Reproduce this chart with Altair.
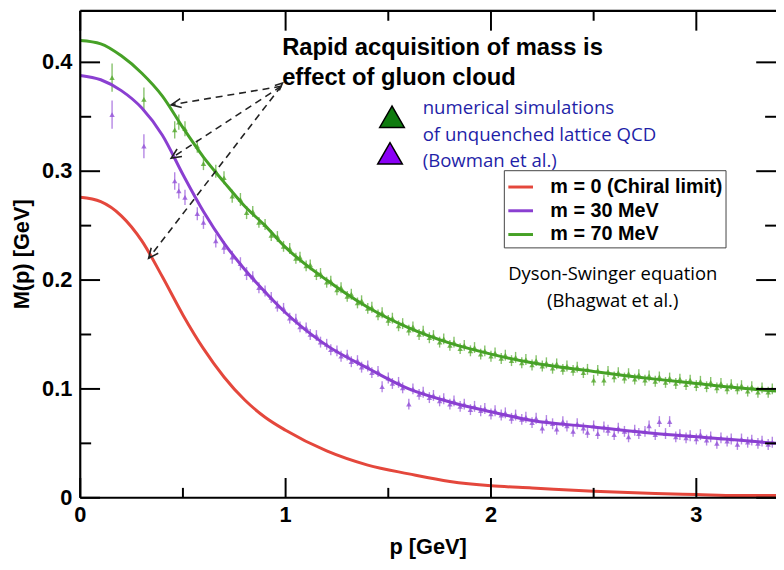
import altair as alt
import pandas as pd

# ---------------- data ----------------
series_names = ["m = 0 (Chiral limit)", "m = 30 MeV", "m = 70 MeV"]
curve_colors = ["#e4473c", "#8a3fd1", "#46a126"]

# Dyson-Schwinger curves
curve_p = [0.0, 0.1, 0.2, 0.3, 0.4, 0.5, 0.6, 0.7, 0.8, 0.9, 1.0, 1.2, 1.4, 1.6,
           1.8, 2.0, 2.2, 2.5, 2.8, 3.0, 3.2, 3.39]
red_m = [0.276, 0.272, 0.259, 0.236, 0.203, 0.168, 0.137, 0.111, 0.090, 0.074, 0.062,
         0.043, 0.030, 0.022, 0.015, 0.011, 0.009, 0.006, 0.004, 0.003, 0.002, 0.002]
purple_m = [0.388, 0.384, 0.374, 0.358, 0.333, 0.297, 0.263, 0.234, 0.210, 0.189, 0.170,
            0.140, 0.119, 0.100, 0.088, 0.079, 0.071, 0.065, 0.059, 0.056, 0.053, 0.050]
green_m = [0.420, 0.417, 0.406, 0.390, 0.369, 0.340, 0.313, 0.290, 0.268, 0.250, 0.230,
           0.200, 0.175, 0.156, 0.142, 0.132, 0.124, 0.116, 0.109, 0.105, 0.101, 0.098]

# lattice QCD points (Bowman et al.)
lat_p = [0.155, 0.31, 0.46, 0.48, 0.51, 0.57, 0.60, 0.66, 0.70, 0.74,
         0.78, 0.81, 0.84, 0.87, 0.90, 0.93, 0.96, 0.99, 1.02, 1.05,
         1.07, 1.10, 1.12, 1.15, 1.17, 1.20, 1.22, 1.25, 1.27, 1.30,
         1.32, 1.35, 1.37, 1.40, 1.42, 1.45, 1.47, 1.50, 1.52, 1.55,
         1.57, 1.60, 1.62, 1.65, 1.67, 1.70, 1.72, 1.75, 1.77, 1.80,
         1.82, 1.85, 1.87, 1.90, 1.92, 1.95, 1.97, 2.00, 2.02, 2.05,
         2.07, 2.10, 2.12, 2.15, 2.17, 2.20, 2.22, 2.25, 2.27, 2.30,
         2.32, 2.35, 2.37, 2.40, 2.42, 2.45, 2.47, 2.50, 2.52, 2.55,
         2.57, 2.60, 2.62, 2.65, 2.67, 2.70, 2.72, 2.75, 2.77, 2.80,
         2.82, 2.85, 2.87, 2.90, 2.92, 2.95, 2.97, 3.00, 3.02, 3.05,
         3.07, 3.10, 3.12, 3.15, 3.17, 3.20, 3.22, 3.25, 3.27, 3.30,
         3.32, 3.35, 3.37]
lat_green = [0.386, 0.366, 0.338, 0.345, 0.339, 0.323, 0.307, 0.300, 0.294, 0.277,
             0.274, 0.262, 0.263, 0.253, 0.251, 0.241, 0.240, 0.231, 0.229, 0.220,
             0.221, 0.213, 0.214, 0.205, 0.206, 0.198, 0.199, 0.191, 0.193, 0.185,
             0.187, 0.179, 0.181, 0.174, 0.175, 0.168, 0.170, 0.163, 0.165, 0.158,
             0.160, 0.154, 0.157, 0.150, 0.153, 0.147, 0.149, 0.143, 0.146, 0.140,
             0.143, 0.137, 0.140, 0.135, 0.138, 0.132, 0.135, 0.130, 0.133, 0.128,
             0.131, 0.126, 0.129, 0.124, 0.127, 0.122, 0.126, 0.121, 0.124, 0.119,
             0.123, 0.118, 0.121, 0.117, 0.120, 0.115, 0.118, 0.108, 0.117, 0.108,
             0.116, 0.111, 0.115, 0.110, 0.114, 0.109, 0.113, 0.108, 0.112, 0.107,
             0.111, 0.106, 0.110, 0.105, 0.109, 0.104, 0.108, 0.103, 0.107, 0.102,
             0.106, 0.101, 0.105, 0.100, 0.104, 0.100, 0.103, 0.098, 0.102, 0.097,
             0.101, 0.097, 0.100]
lat_purple = [0.352, 0.323, 0.291, 0.282, 0.276, 0.261, 0.253, 0.236, 0.230, 0.221,
              0.215, 0.206, 0.203, 0.193, 0.190, 0.184, 0.176, 0.174, 0.165, 0.164,
              0.157, 0.156, 0.150, 0.149, 0.143, 0.141, 0.136, 0.135, 0.130, 0.131,
              0.125, 0.126, 0.120, 0.121, 0.115, 0.116, 0.102, 0.110, 0.105, 0.106,
              0.101, 0.086, 0.100, 0.095, 0.097, 0.092, 0.094, 0.089, 0.091, 0.086,
              0.089, 0.084, 0.086, 0.081, 0.084, 0.080, 0.082, 0.077, 0.080, 0.076,
              0.078, 0.073, 0.076, 0.072, 0.074, 0.069, 0.073, 0.064, 0.071, 0.068,
              0.063, 0.070, 0.066, 0.061, 0.068, 0.064, 0.060, 0.066, 0.059, 0.065,
              0.062, 0.058, 0.064, 0.061, 0.056, 0.062, 0.059, 0.061, 0.066, 0.058,
              0.070, 0.059, 0.070, 0.056, 0.058, 0.055, 0.057, 0.054, 0.058, 0.053,
              0.056, 0.050, 0.055, 0.052, 0.054, 0.049, 0.054, 0.051, 0.053, 0.050,
              0.052, 0.049, 0.051]
lat_err = [0.013, 0.011, 0.008, 0.007, 0.007, 0.006, 0.006, 0.006, 0.006, 0.006,
           0.006, 0.006, 0.005, 0.005, 0.005, 0.005, 0.005, 0.005, 0.005, 0.005,
           0.005, 0.005, 0.005, 0.005, 0.005, 0.005, 0.005, 0.005, 0.005, 0.005,
           0.005, 0.005, 0.005, 0.005, 0.005, 0.005, 0.005, 0.005, 0.005, 0.005,
           0.005, 0.005, 0.005, 0.005, 0.005, 0.005, 0.005, 0.005, 0.005, 0.005,
           0.005, 0.005, 0.005, 0.005, 0.005, 0.005, 0.005, 0.005, 0.005, 0.005,
           0.005, 0.005, 0.005, 0.005, 0.005, 0.005, 0.005, 0.005, 0.005, 0.005,
           0.005, 0.005, 0.005, 0.005, 0.005, 0.005, 0.005, 0.005, 0.005, 0.005,
           0.005, 0.005, 0.005, 0.005, 0.005, 0.005, 0.005, 0.005, 0.005, 0.005,
           0.005, 0.005, 0.005, 0.005, 0.005, 0.005, 0.005, 0.005, 0.005, 0.005,
           0.005, 0.005, 0.005, 0.005, 0.005, 0.005, 0.005, 0.005, 0.005, 0.005,
           0.005, 0.005, 0.005]

# tick positions and tick labels
x_major = [0, 1, 2, 3]
x_major_labels = ["0", "1", "2", "3"]
x_minor = [0.5, 1.5, 2.5]
y_major = [0, 0.1, 0.2, 0.3, 0.4]
y_major_labels = ["0", "0.1", "0.2", "0.3", "0.4"]
y_minor = [0.05, 0.15, 0.25, 0.35]

# annotation arrows (data coordinates) and head angles
arrow_p0 = [0.978, 0.978, 0.978]
arrow_m0 = [0.378, 0.378, 0.378]
arrow_p1 = [0.443, 0.443, 0.333]
arrow_m1 = [0.361, 0.312, 0.220]
arrow_ang = [170, 147, 128]
tail_head_p = [0.985]
tail_head_m = [0.381]
tail_head_ang = [318]

P_MAX = 3.388
M_MAX = 0.4473
W, H = 703, 492

# ---------------- tables ----------------
curves_df = pd.concat([
    pd.DataFrame({"p": curve_p, "M": red_m, "series": series_names[0]}),
    pd.DataFrame({"p": curve_p, "M": purple_m, "series": series_names[1]}),
    pd.DataFrame({"p": curve_p, "M": green_m, "series": series_names[2]}),
])
green_df = pd.DataFrame({"p": lat_p, "M": lat_green, "err": lat_err})
purple_df = pd.DataFrame({"p": lat_p, "M": lat_purple, "err": lat_err})
arrows_df = pd.DataFrame({"p0": arrow_p0, "m0": arrow_m0, "p1": arrow_p1,
                          "m1": arrow_m1, "ang": arrow_ang})
tail_df = pd.DataFrame({"p1": tail_head_p, "m1": tail_head_m, "ang": tail_head_ang})

FONT = "Liberation Sans"
xs = alt.Scale(domain=[0, P_MAX], nice=False, zero=False)
ys = alt.Scale(domain=[0, M_MAX], nice=False, zero=False)


def X(field):
    return alt.X(field, scale=xs, axis=None)


def Y(field):
    return alt.Y(field, scale=ys, axis=None)


G_LAT = "#52a82c"
P_LAT = "#9452d8"

curves = alt.Chart(curves_df).mark_line(strokeWidth=3, interpolate="monotone").encode(
    x=X("p:Q"),
    y=Y("M:Q"),
    color=alt.Color(
        "series:N",
        scale=alt.Scale(domain=series_names, range=curve_colors),
        legend=alt.Legend(
            orient="none", legendX=428, legendY=161, title=None,
            symbolType="stroke", symbolSize=620, symbolStrokeWidth=3,
            labelFont=FONT, labelFontWeight="bold", labelFontSize=20,
            labelColor="black", labelLimit=400, strokeColor="#444",
            fillColor="white", padding=3, rowPadding=0, labelOffset=16,
        ),
    ),
)


# ---- frame, inward ticks, tick labels and axis titles ----
def xticks(vals, y0, y1):
    return alt.Chart(pd.DataFrame({"p": vals})).mark_rule(
        color="black", strokeWidth=2).encode(
        x=X("p:Q"), y=alt.value(y0), y2=alt.value(y1))


def yticks(vals, x0, x1):
    return alt.Chart(pd.DataFrame({"M": vals})).mark_rule(
        color="black", strokeWidth=2).encode(
        y=Y("M:Q"), x=alt.value(x0), x2=alt.value(x1))


def frame_line(x0, x1, y0, y1):
    return alt.Chart(pd.DataFrame({"v": [0]})).mark_rule(
        color="black", strokeWidth=2.2).encode(
        x=alt.value(x0), x2=alt.value(x1), y=alt.value(y0), y2=alt.value(y1))


x_labels = alt.Chart(pd.DataFrame({"p": x_major, "lab": x_major_labels})).mark_text(
    font=FONT, fontWeight="bold", fontSize=22, color="black",
    align="center", baseline="top",
).encode(x=X("p:Q"), y=alt.value(H + 7), text="lab:N")

y_labels = alt.Chart(pd.DataFrame({"M": y_major, "lab": y_major_labels})).mark_text(
    font=FONT, fontWeight="bold", fontSize=22, color="black",
    align="right", baseline="middle",
).encode(y=Y("M:Q"), x=alt.value(-8), text="lab:N")

x_title = alt.Chart(pd.DataFrame({"t": ["p [GeV]"]})).mark_text(
    font=FONT, fontWeight="bold", fontSize=22, color="black",
    align="center", baseline="alphabetic",
).encode(x=alt.value(W / 2), y=alt.value(H + 57), text="t:N")

y_title = alt.Chart(pd.DataFrame({"t": ["M(p) [GeV]"]})).mark_text(
    font=FONT, fontWeight="bold", fontSize=22, color="black",
    align="center", baseline="middle", angle=270,
).encode(x=alt.value(-59), y=alt.value(H / 2), text="t:N")

frame_layers = [
    frame_line(0, W, 0, 0),      # top
    frame_line(0, 0, 0, H),      # left
    frame_line(0, W, H, H),      # bottom
    xticks(x_major, H, H - 20), xticks(x_minor, H, H - 10),
    xticks(x_major, 0, 20), xticks(x_minor, 0, 10),
    yticks(y_major, 0, 20), yticks(y_minor, 0, 11),
    yticks(y_major, W, W - 20), yticks(y_minor, W, W - 11),
    x_labels, y_labels, x_title, y_title,
]


def err_layer(df, color):
    return alt.Chart(df).transform_calculate(
        lo="datum.M - datum.err", hi="datum.M + datum.err"
    ).mark_rule(color=color, strokeWidth=1.4, opacity=0.7).encode(
        x=X("p:Q"), y=Y("lo:Q"), y2="hi:Q",
    )


def pt_layer(df, color):
    return alt.Chart(df).mark_point(
        shape="triangle-up", filled=True, size=30, color=color, opacity=0.8
    ).encode(x=X("p:Q"), y=Y("M:Q"))


arrow_lines = alt.Chart(arrows_df).mark_rule(
    color="#222", strokeWidth=1.6, strokeDash=[7, 5]
).encode(x=X("p0:Q"), y=Y("m0:Q"), x2="p1:Q", y2="m1:Q")


def heads(df, size):
    return alt.Chart(df).mark_point(
        shape="M-1,-0.45L0,0L-1,0.45", filled=False, size=size, strokeWidth=1.6,
        color="#222", opacity=1,
    ).encode(
        x=X("p1:Q"), y=Y("m1:Q"), angle=alt.Angle("ang:Q", scale=None),
    )


def label(txt, x, y, size, color="black", weight="normal", font="Open Sans",
          align="left"):
    return alt.Chart(pd.DataFrame({"t": [txt]})).mark_text(
        align=align, baseline="alphabetic", fontSize=size, font=font,
        fontWeight=weight, color=color,
    ).encode(x=alt.value(x), y=alt.value(y), text="t:N")


def tri(color, x, y):
    return alt.Chart(pd.DataFrame({"t": [0]})).mark_point(
        shape="triangle-up", filled=True, size=620, fill=color, stroke="black",
        strokeWidth=1.5, fillOpacity=1, strokeOpacity=1, opacity=1,
    ).encode(x=alt.value(x), y=alt.value(y))


BLUE = "#1f1fa8"
annotations = [
    label("Rapid acquisition of mass is", 204, 45, 24, weight="bold", font=FONT),
    label("effect of gluon cloud", 204, 75, 24, weight="bold", font=FONT),
    tri("#0f7b0f", 315, 107),
    tri("#8a00f5", 313, 144),
    label("numerical simulations", 346, 104, 18.8, color=BLUE),
    label("of unquenched lattice QCD", 346, 131, 18.8, color=BLUE),
    label("(Bowman et al.)", 346, 158, 18.8, color=BLUE),
    label("Dyson-Swinger equation", 538, 272, 18.6, align="center"),
    label("(Bhagwat et al.)", 538, 299, 18.6, align="center"),
]

chart = alt.layer(
    err_layer(green_df, G_LAT), pt_layer(green_df, G_LAT),
    err_layer(purple_df, P_LAT), pt_layer(purple_df, P_LAT),
    curves, *frame_layers,
    arrow_lines, heads(arrows_df, 400), heads(tail_df, 220), *annotations
).properties(
    width=W, height=H,
    autosize=alt.AutoSizeParams(type="none"),
    padding={"left": 73, "top": 0, "right": 0, "bottom": 62},
    background="white",
).configure_view(stroke=None)

chart.save("out.html", embed_options={"renderer": "svg", "actions": False})
